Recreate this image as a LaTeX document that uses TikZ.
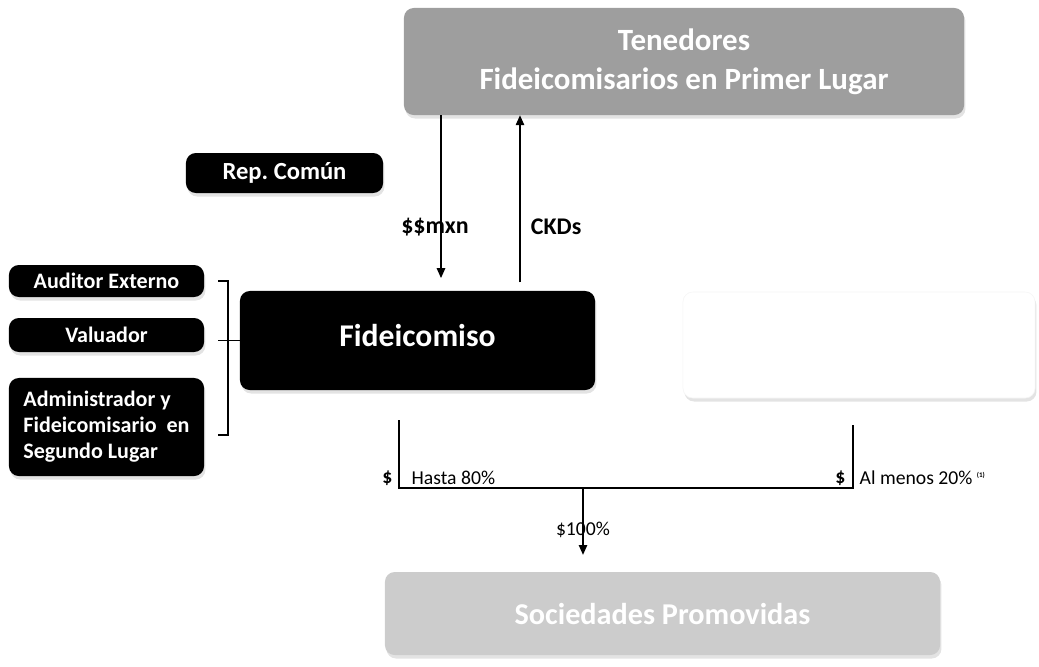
\documentclass[tikz,border=0pt]{standalone}
\usepackage{fontspec}
\setmainfont{Carlito}
\usetikzlibrary{arrows.meta,shadows}

\begin{document}
\frenchspacing
\begin{tikzpicture}[x=0.025cm,y=-0.025cm,
    caja/.style={rounded corners=7pt, fill=black, text=white, align=center,
      font=\bfseries\fontsize{15.7}{18.5}\selectfont,
      drop shadow={shadow xshift=1pt,shadow yshift=-2.5pt,fill=black!22}},
    flecha/.style={-{Triangle[length=7pt,width=6pt]}, line width=0.9pt},
    etiq/.style={font=\fontsize{14}{16}\selectfont, inner sep=1pt}]
    \useasboundingbox (0,0) rectangle (1039,666);

    % cajas
    \node[caja, fill=black!38, minimum width=14cm, minimum height=2.675cm,
      font=\bfseries\fontsize{22}{27.5}\selectfont] (ten) at (684,61.5)
      {Tenedores\\Fideicomisarios en Primer Lugar};
    \node[caja, minimum width=4.925cm, minimum height=1cm,
      font=\bfseries\fontsize{17.5}{20}\selectfont] (rep) at (284.5,173) {Rep. Común};
    \node[caja, minimum width=8.875cm, minimum height=2.475cm,
      font=\bfseries\fontsize{22.5}{26}\selectfont] (fid) at (417.5,340.5) {\raisebox{7.5pt}{Fideicomiso}};
    \node[caja, minimum width=4.875cm, minimum height=0.8cm] (aud) at (106.5,281) {Auditor Externo};
    \node[caja, minimum width=4.875cm, minimum height=0.85cm] (val) at (106.5,335) {Valuador};
    \node[caja, minimum width=4.875cm, minimum height=2.45cm, align=left] (adm) at (106.5,427)
      {Administrador y\\Fideicomisario\ \ en\\Segundo Lugar};
    \node[caja, fill=white, draw=black!4, minimum width=8.8cm, minimum height=2.65cm] (gp) at (859,345) {};
    \node[caja, fill=black!20, minimum width=13.875cm, minimum height=2.075cm,
      font=\bfseries\fontsize{21.5}{24}\selectfont] (soc) at (662.5,613.5) {Sociedades Promovidas};

    % flujos con tenedores
    \coordinate (mx) at (441,0);
    \coordinate (ck) at (520,0);
    \draw[flecha, shorten >=9pt] (ten.south -| mx) -- (fid.north -| mx);
    \draw[flecha, shorten <=6pt] (fid.north -| ck) -- (ten.south -| ck);
    \node[font=\bfseries\fontsize{17}{19}\selectfont] (mxn) at (435,227) {\$\$mxn};
    \node[font=\bfseries\fontsize{17}{19}\selectfont, anchor=west] (ckd) at (526,227) {CKDs};

    % corchete
    \coordinate (ba) at (228,281);
    \coordinate (bb) at (228,435);
    \draw[line width=0.8pt] (218,281) -- (ba) -- (bb) -- (218,435);
    \draw[line width=0.8pt] (fid.west) -- (218,340.5);

    % distribucion
    \coordinate (hl) at (399,488);
    \coordinate (hr) at (853,488);
    \coordinate (hm) at (583,488);
    \draw[line width=1.1pt] (399,420) -- (hl) -- (hr) -- (853,425);
    \draw[flecha, shorten >=12pt] (hm) -- (soc.north -| hm);

    \node[etiq, font=\bfseries\fontsize{14}{16}\selectfont, anchor=east] (d1) at (394,478) {\$};
    \node[etiq, anchor=west] (h80) at (410,478) {Hasta 80\%};
    \node[etiq, font=\bfseries\fontsize{14}{16}\selectfont, anchor=east] (d2) at (847,478) {\$};
    \node[etiq, anchor=west] (m20) at (858,478) {Al menos 20\% \textsuperscript{\tiny\bfseries(1)}};
    \node[etiq] (cien) at (583,530) {\$100\%};
\end{tikzpicture}
\end{document}
